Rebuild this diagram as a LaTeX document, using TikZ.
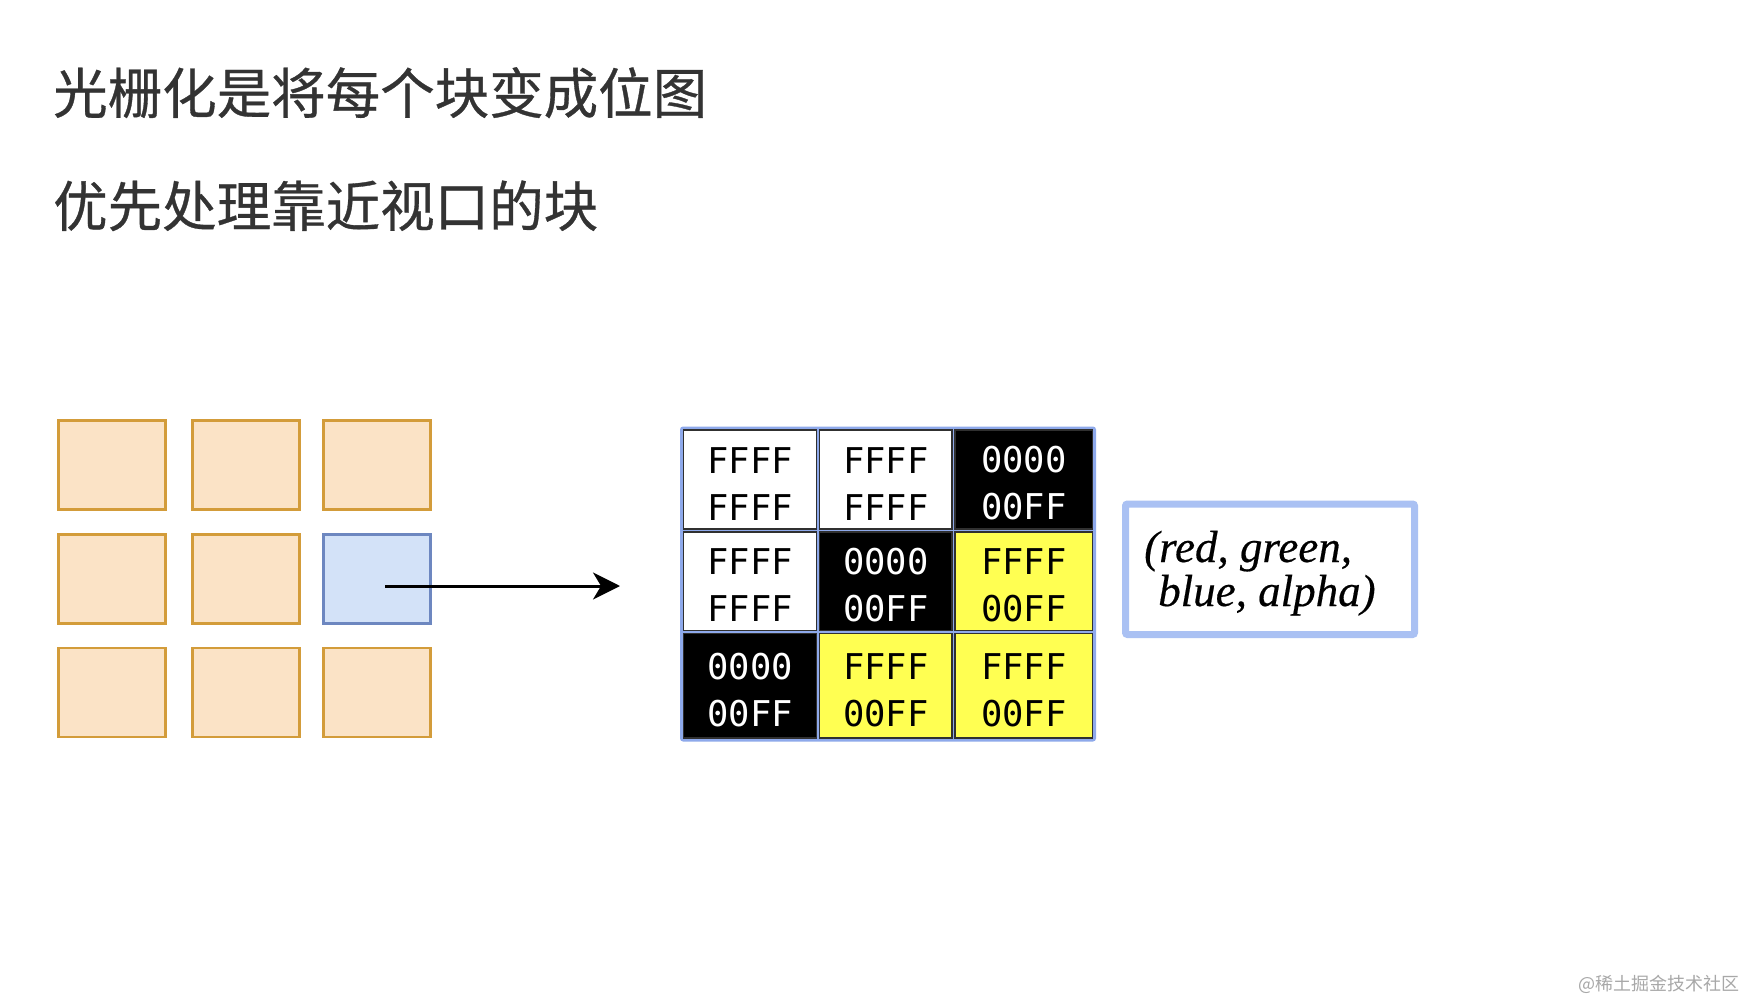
\documentclass[tikz,border=0pt]{standalone}
\usepackage{fontspec}
\newfontfamily\cjk{Noto Sans CJK SC}
\newfontfamily\cjkhead{Noto Sans CJK SC}[FakeBold=0.6]
\newfontfamily\hexfont{DejaVu Sans Mono}
\newfontfamily\rgbafont{Liberation Serif}[FakeBold=0.4]
\usetikzlibrary{arrows.meta}
\definecolor{titlegray}{HTML}{333333}
\definecolor{tilefill}{HTML}{FBE3C6}
\definecolor{tileline}{HTML}{D39C3A}
\definecolor{selfill}{HTML}{D3E2F8}
\definecolor{selline}{HTML}{6D87C0}
\definecolor{gridblue}{HTML}{8EA9EB}
\definecolor{cellline}{HTML}{303030}
\definecolor{hexyellow}{HTML}{FFFF52}
\definecolor{boxblue}{HTML}{AAC1F3}
\definecolor{wmgray}{HTML}{A8A8A8}
\newcommand\hexpair[2]{\rule{0pt}{34pt}#1\\#2}
\tikzset{
  tile/.style={draw=tileline, fill=tilefill, line width=2.7pt, inner sep=0,
    minimum width=107pt, minimum height=89pt},
  seltile/.style={tile, draw=selline, fill=selfill},
  hexcell/.style={draw=cellline, line width=1.2pt, inner sep=0, align=center,
    font=\hexfont\fontsize{35.5}{47}\selectfont},
  wcell/.style={hexcell, fill=white, text=black},
  kcell/.style={hexcell, fill=black, text=white},
  ycell/.style={hexcell, fill=hexyellow, text=black},
  heading/.style={anchor=base west, inner sep=0, text=titlegray,
    font=\cjkhead\fontsize{54.5}{60}\selectfont},
  arrowline/.style={draw=black, line width=3pt,
    -{Stealth[length=27pt, width=27pt, inset=8pt]}},
}
\begin{document}
\begin{tikzpicture}[x=1pt, y=-1pt]
\useasboundingbox (0,0) rectangle (1746,1000);
\fill[white] (0,0) rectangle (1746,1000);

% headings
\node[heading] (title) at (53,113.5) {光栅化是将每个块变成位图};
\node[heading] (subtitle) at (53,226.5) {优先处理靠近视口的块};

% tiles
\node[tile] (t11) at (112,465) {};
\node[tile] (t12) at (246.25,465) {};
\node[tile] (t13) at (377.25,465) {};
\node[tile] (t21) at (112,578.75) {};
\node[tile] (t22) at (246.25,578.75) {};
\node[seltile] (t23) at (377.25,578.75) {};
\node[tile] (t31) at (112,692.5) {};
\node[tile] (t32) at (246.25,692.5) {};
\node[tile] (t33) at (377.25,692.5) {};

% arrow
\coordinate (arrowtip) at (620,586);
\draw[arrowline] ([shift={(7.75,7.25)}]t23.center) -- (arrowtip);

% bitmap grid
\node[fill=gridblue, rounded corners=3pt, inner sep=0,
  minimum width=416pt, minimum height=315pt] (grid) at (888,584) {};
\node[wcell, minimum width=133pt, minimum height=99pt] (c11) at (750,479.5) {\hexpair{FFFF}{FFFF}};
\node[wcell, minimum width=132.5pt, minimum height=99pt] (c12) at (885.75,479.5) {\hexpair{FFFF}{FFFF}};
\node[kcell, minimum width=137.5pt, minimum height=99pt] (c13) at (1023.75,479.5) {\hexpair{0000}{00FF}};
\node[wcell, minimum width=133pt, minimum height=98.5pt] (c21) at (750,581.25) {\hexpair{FFFF}{FFFF}};
\node[kcell, minimum width=132.5pt, minimum height=98.5pt] (c22) at (885.75,581.25) {\hexpair{0000}{00FF}};
\node[ycell, minimum width=137.5pt, minimum height=98.5pt] (c23) at (1023.75,581.25) {\hexpair{FFFF}{00FF}};
\node[kcell, minimum width=133pt, minimum height=104.5pt] (c31) at (750,685.75) {\hexpair{0000}{00FF}};
\node[ycell, minimum width=132.5pt, minimum height=104.5pt] (c32) at (885.75,685.75) {\hexpair{FFFF}{00FF}};
\node[ycell, minimum width=137.5pt, minimum height=104.5pt] (c33) at (1023.75,685.75) {\hexpair{FFFF}{00FF}};

% rgba box
\node[draw=boxblue, line width=7pt, rounded corners=2pt, inner sep=0,
  minimum width=289pt, minimum height=130.5pt] (rgba) at (1270,569.25) {};
\node[anchor=base west, inner sep=0, align=left,
  font=\rgbafont\itshape\fontsize{45}{44}\selectfont] (rgbatext) at (1144,606)
  {(red, green,\\\hspace*{14pt}blue, alpha)};

% watermark
\node[anchor=base east, inner sep=0, text=wmgray,
  font=\cjk\fontsize{18}{20}\selectfont] (wm) at (1740,990) {@稀土掘金技术社区};
\end{tikzpicture}
\end{document}
